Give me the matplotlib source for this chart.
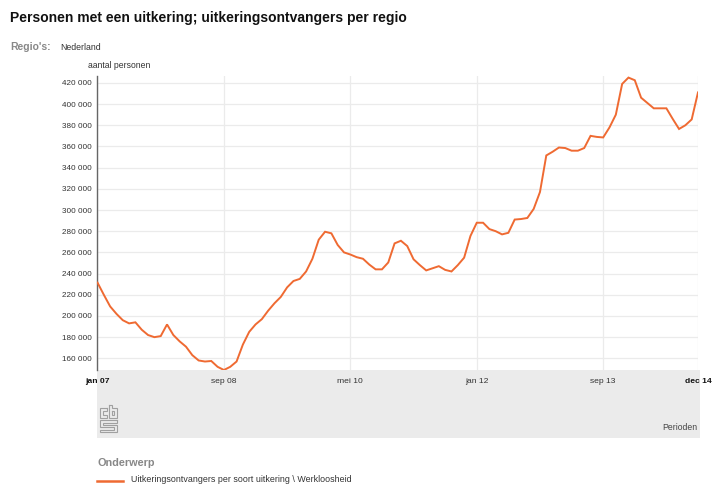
import matplotlib.pyplot as plt
from matplotlib.patches import Rectangle
from matplotlib.lines import Line2D

plt.rcParams['font.family'] = ['Liberation Sans', 'DejaVu Sans']

# werkloosheidsuitkeringen, Nederland, per maand jan 2007 - dec 2014 (x 1000)
werkloosheid = [
    231.5, 220, 209, 202, 196, 193, 194, 187, 182, 180, 181, 192,
    182, 176, 171, 163, 158, 157, 157.5, 152, 149, 152, 157, 173,
    185, 192, 197, 205, 212, 218, 227, 233, 235, 242, 254, 272,
    279.5, 278, 267, 260, 258, 255.5, 254, 248.5, 244, 244, 250.5, 268.5,
    271, 266, 253.5, 248, 243, 245, 247, 243.5, 242, 248, 255, 275.5,
    288, 288, 282, 280, 277, 278.5, 291, 291.5, 292.5, 301, 317, 351.5,
    355, 359, 358.5, 356, 356, 358.5, 370, 369, 368.5, 378, 390, 419,
    425, 422.5, 406, 401, 396, 396, 396, 386, 376.5, 380, 385.5, 411,
]
periode_ticks = [0, 20, 40, 60, 80, 95]
periode_labels = ['jan 07', 'sep 08', 'mei 10', 'jan 12', 'sep 13', 'dec 14']
y_ticks = list(range(160000, 420001, 20000))

orange = '#ef6a32'
W, H = 712, 484

fig = plt.figure(figsize=(W / 100, H / 100), dpi=100)

def fx(px):
    return px / W

def fy(py):
    return 1 - py / H

def pad_lijn(punten, kleur='#a0a0a0', lw=0.8):
    fig.lines.append(Line2D([fx(p[0]) for p in punten], [fy(p[1]) for p in punten],
                            transform=fig.transFigure, color=kleur, lw=lw,
                            solid_joinstyle='miter', zorder=3))

# grijze band onder de grafiek
fig.patches.append(Rectangle((fx(97), fy(438)), fx(700) - fx(97), fy(370) - fy(438),
                             transform=fig.transFigure, facecolor='#ebebeb',
                             edgecolor='none', zorder=0))

ax = fig.add_axes([fx(97.5), fy(370), fx(698) - fx(97.5), fy(76) - fy(370)])
ax.set_zorder(2)
ax.set_facecolor('none')
x = list(range(len(werkloosheid)))
y = [v * 1000 for v in werkloosheid]
ax.plot(x, y, color=orange, lw=1.4, zorder=3, solid_joinstyle='miter')

ax.set_xlim(0, 95)
ax.set_ylim(149000, 426500)
ax.set_yticks(y_ticks)
ax.set_yticklabels([f'{v // 1000} 000' for v in y_ticks], fontsize=5.9, color='#333333')
ax.set_xticks(periode_ticks)
ax.set_xticklabels(periode_labels, fontsize=6.1, color='#333333')
for i, lab in enumerate(ax.get_xticklabels()):
    if i in (0, len(periode_ticks) - 1):
        lab.set_fontweight('bold')
        lab.set_color('#111111')
ax.tick_params(axis='both', length=0, pad=4)
ax.tick_params(axis='x', pad=6)
ax.grid(True, color='#ebebeb', lw=0.9)
ax.set_axisbelow(True)
for s in ['top', 'right', 'bottom']:
    ax.spines[s].set_visible(False)
ax.spines['left'].set_color('#666666')
ax.spines['left'].set_linewidth(1.0)

# teksten
fig.text(fx(10), fy(18), 'Personen met een uitkering; uitkeringsontvangers per regio',
         fontsize=10, fontweight='bold', color='#111111', va='center')
fig.text(fx(10), fy(47), "Regio's:", fontsize=7.5, fontweight='bold', color='#888888', va='center')
fig.text(fx(60), fy(47), 'Nederland', fontsize=6.3, color='#333333', va='center')
fig.text(fx(88), fy(66), 'aantal personen', fontsize=6.2, color='#333333', va='center')
fig.text(fx(697), fy(427), 'Perioden', fontsize=6.2, color='#444444', va='center', ha='right')

# cbs-logo, eenvoudig nagetekend
pad_lijn([(107, 408), (100, 408), (100, 418), (107, 418), (107, 415), (103, 415), (103, 411), (107, 411), (107, 408)])
pad_lijn([(109, 405), (112, 405), (112, 408), (117, 408), (117, 418), (109, 418), (109, 405)])
pad_lijn([(112, 411), (114, 411), (114, 415), (112, 415), (112, 411)])
pad_lijn([(117, 420), (100, 420), (100, 427), (114, 427), (114, 429.5), (100, 429.5), (100, 432),
          (117, 432), (117, 424.5), (103, 424.5), (103, 422.5), (117, 422.5), (117, 420)])

fig.text(fx(97), fy(463), 'Onderwerp', fontsize=7.8, fontweight='bold', color='#888888', va='center')
fig.lines.append(Line2D([fx(97), fx(123)], [fy(481), fy(481)], transform=fig.transFigure,
                        color=orange, lw=1.8))
fig.text(fx(131), fy(480), 'Uitkeringsontvangers per soort uitkering \\ Werkloosheid',
         fontsize=6.4, color='#333333', va='center')

fig.savefig('out.png', dpi=100)
